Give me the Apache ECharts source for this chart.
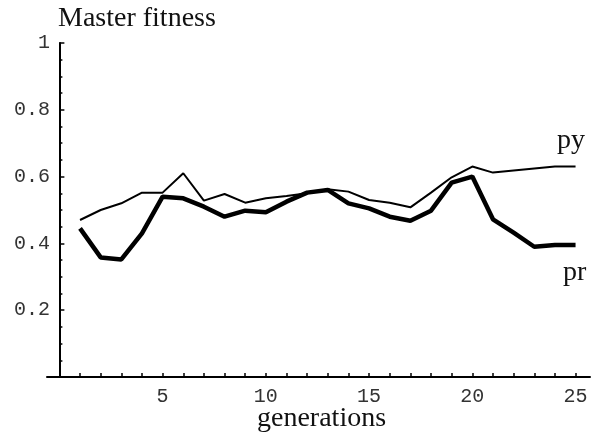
<!DOCTYPE html>
<html>
<head>
<meta charset="utf-8">
<script src="https://cdn.jsdelivr.net/npm/echarts@6/dist/echarts.min.js"></script>
<style>html,body{margin:0;padding:0;background:#fff}#c{width:592px;height:435px}</style>
</head>
<body>
<div id="c"></div>
<script>
var generations = [1,2,3,4,5,6,7,8,9,10,11,12,13,14,15,16,17,18,19,20,21,22,23,24,25];
var py = [0.470,0.500,0.520,0.552,0.552,0.610,0.528,0.548,0.522,0.535,0.542,0.550,0.562,0.555,0.530,0.522,0.508,0.552,0.598,0.630,0.612,0.618,0.624,0.630,0.630];
var pr = [0.445,0.358,0.352,0.430,0.540,0.535,0.510,0.480,0.498,0.493,0.525,0.552,0.560,0.520,0.505,0.480,0.468,0.498,0.582,0.600,0.472,0.432,0.390,0.395,0.395];
var xTickLabels = [5,10,15,20,25];
var yTickLabels = [0.2,0.4,0.6,0.8,1];

function pairs(xs, ys){ return xs.map(function(x,i){ return [x, ys[i]]; }); }

var chart = echarts.init(document.getElementById('c'), null, {renderer:'canvas'});
chart.setOption({
  animation:false,
  grid:{left:47, right:2, top:43, bottom:58, containLabel:false},
  xAxis:{
    type:'value', min:-0.6, max:25.7,
    axisLine:{onZero:true, lineStyle:{color:'#000', width:2}},
    axisTick:{show:true, inside:true, length:4, customValues:generations, lineStyle:{color:'#000', width:1.5}},
    axisLabel:{customValues:xTickLabels, margin:10, fontFamily:'Liberation Mono', fontSize:20, color:'#333'},
    splitLine:{show:false}
  },
  yAxis:{
    type:'value', min:0, max:1, interval:0.2,
    axisLine:{show:true, onZero:true, lineStyle:{color:'#000', width:2}},
    axisTick:{show:true, inside:true, length:5, lineStyle:{color:'#000', width:1.5}},
    minorTick:{show:true, splitNumber:4, length:3, lineStyle:{color:'#000', width:1.5}},
    axisLabel:{margin:-3, fontFamily:'Liberation Mono', fontSize:20, color:'#333',
      showMinLabel:false,
      formatter:function(v){ return yTickLabels.indexOf(+v.toFixed(1))>=0 ? (v===1?'1':v.toFixed(1)) : ''; }},
    splitLine:{show:false}
  },
  graphic:[
    {type:'text', left:58, top:5, style:{text:'Master fitness', font:'28px "Liberation Serif"', fill:'#111'}},
    {type:'text', left:257, top:405, style:{text:'generations', font:'28px "Liberation Serif"', fill:'#111'}},
    {type:'text', left:557, top:127, style:{text:'py', font:'28px "Liberation Serif"', fill:'#111'}},
    {type:'text', left:563, top:259, style:{text:'pr', font:'28px "Liberation Serif"', fill:'#111'}}
  ],
  series:[
    {type:'line', name:'py', data:pairs(generations, py), symbol:'none', lineStyle:{color:'#000', width:2}},
    {type:'line', name:'pr', data:pairs(generations, pr), symbol:'none', lineStyle:{color:'#000', width:4.5}}
  ]
});
</script>
</body>
</html>
